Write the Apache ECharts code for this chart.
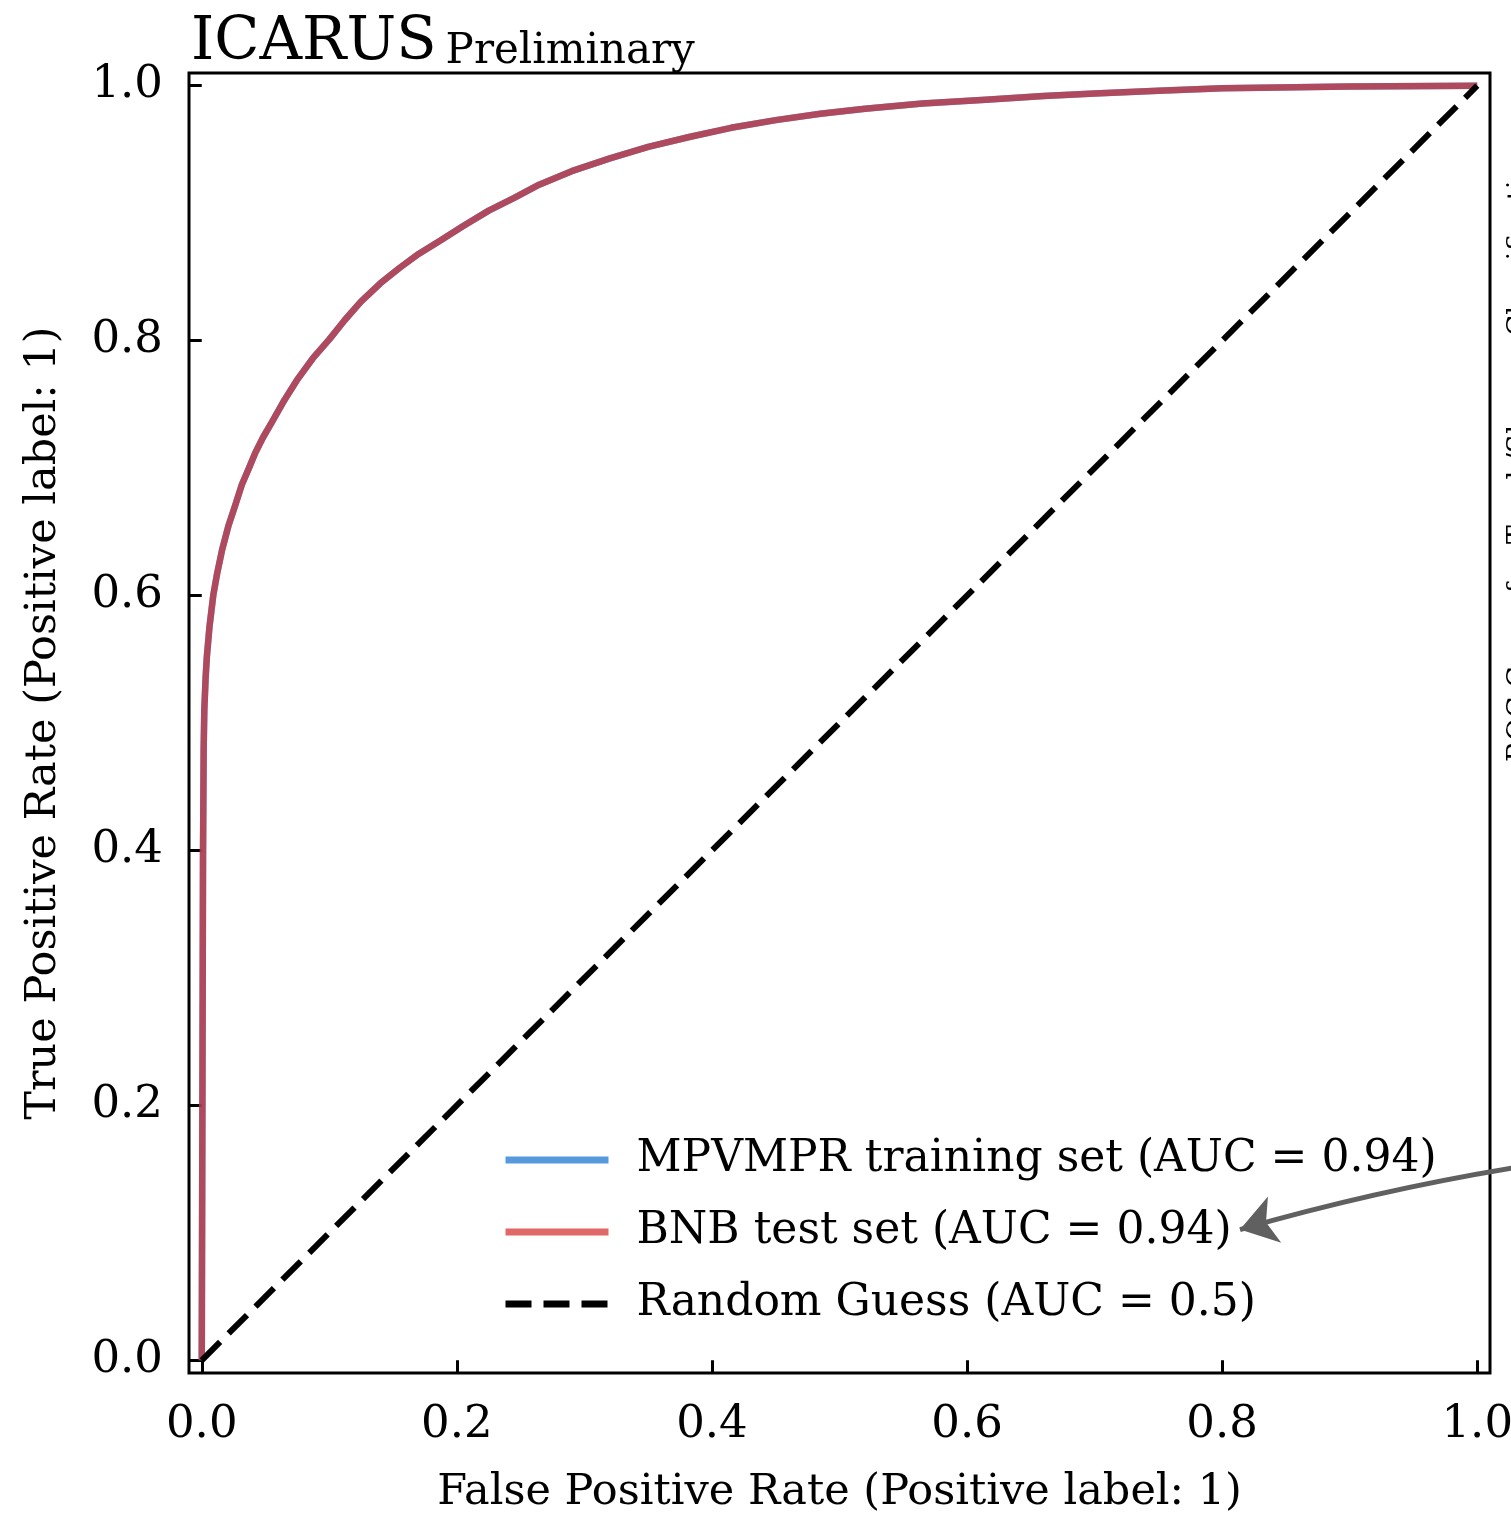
<!DOCTYPE html>
<html>
<head>
<meta charset="utf-8">
<script src="https://cdn.jsdelivr.net/npm/echarts@6/dist/echarts.min.js"></script>
<style>
html,body{margin:0;padding:0;background:#fff;}
#chart{width:1511px;height:1518px;}
</style>
</head>
<body>
<div id="chart"></div>
<script>
// ROC curve data (the two curves overlap)
const fprTrain = [0, 0.0005, 0.001, 0.0015, 0.002, 0.003, 0.004, 0.006, 0.009, 0.012, 0.016, 0.021, 0.026, 0.0314, 0.037, 0.042, 0.048, 0.055, 0.064, 0.0746, 0.087, 0.1, 0.112, 0.1248, 0.14, 0.155, 0.17, 0.1868, 0.205, 0.225, 0.245, 0.2645, 0.29, 0.32, 0.35, 0.383, 0.415, 0.45, 0.485, 0.52, 0.565, 0.6146, 0.66, 0.70, 0.75, 0.80, 0.90, 1.0];
const tprTrain = [0, 0.20, 0.40, 0.48, 0.51, 0.535, 0.552, 0.575, 0.600, 0.617, 0.636, 0.655, 0.670, 0.687, 0.700, 0.712, 0.724, 0.736, 0.752, 0.769, 0.786, 0.801, 0.816, 0.8306, 0.845, 0.857, 0.868, 0.8784, 0.890, 0.902, 0.912, 0.9224, 0.933, 0.943, 0.952, 0.960, 0.967, 0.973, 0.978, 0.982, 0.986, 0.989, 0.992, 0.994, 0.996, 0.998, 0.9995, 1.0];
const fprTest = [0, 0.0005, 0.001, 0.0015, 0.002, 0.003, 0.004, 0.006, 0.009, 0.012, 0.016, 0.021, 0.026, 0.0314, 0.037, 0.042, 0.048, 0.055, 0.064, 0.0746, 0.087, 0.1, 0.112, 0.1248, 0.14, 0.155, 0.17, 0.1868, 0.205, 0.225, 0.245, 0.2645, 0.29, 0.32, 0.35, 0.383, 0.415, 0.45, 0.485, 0.52, 0.565, 0.6146, 0.66, 0.70, 0.75, 0.80, 0.90, 1.0];
const tprTest = [0, 0.20, 0.40, 0.48, 0.51, 0.535, 0.552, 0.575, 0.600, 0.617, 0.636, 0.655, 0.670, 0.687, 0.700, 0.712, 0.724, 0.736, 0.752, 0.769, 0.786, 0.801, 0.816, 0.8306, 0.845, 0.857, 0.868, 0.8784, 0.890, 0.902, 0.912, 0.9224, 0.933, 0.943, 0.952, 0.960, 0.967, 0.973, 0.978, 0.982, 0.986, 0.989, 0.992, 0.994, 0.996, 0.998, 0.9995, 1.0];
const randomX = [0, 1];
const randomY = [0, 1];
const tickValues = [0, 0.2, 0.4, 0.6, 0.8, 1.0];
const seriesNames = ['MPVMPR training set (AUC = 0.94)', 'BNB test set (AUC = 0.94)', 'Random Guess (AUC = 0.5)'];
const arrowFrom = [1.035, 0.152];
const arrowTo = [0.814, 0.1025];
const sideText = 'ROC Curve for Track/Shower Classification';

const FONT = '"DejaVu Serif", "Liberation Serif", serif';
const zip = (a, b) => a.map((v, i) => [v, b[i]]);

const chart = echarts.init(document.getElementById('chart'), null, {renderer: 'canvas'});
const axisCommon = {
  type: 'value', min: -0.01, max: 1.01,
  splitLine: {show: false},
  axisLine: {show: false},
  axisTick: {show: true, customValues: tickValues, length: 12, lineStyle: {color: '#000', width: 3}},
  axisLabel: {customValues: tickValues, formatter: v => v.toFixed(1), color: '#000', fontFamily: FONT, fontSize: 45},
  nameLocation: 'middle',
  nameTextStyle: {color: '#000', fontFamily: FONT, fontSize: 43}
};
chart.setOption({
  animation: false,
  backgroundColor: '#fff',
  title: {
    left: 186, top: 6,
    text: '{a|ICARUS} {b|Preliminary}',
    textStyle: {rich: {
      a: {fontFamily: FONT, fontSize: 59, fontWeight: 'normal', color: '#000', verticalAlign: 'bottom', lineHeight: 62},
      b: {fontFamily: FONT, fontSize: 42, fontWeight: 'normal', color: '#000', verticalAlign: 'bottom', lineHeight: 62, padding: [0, 0, 0, 4]}
    }}
  },
  grid: {left: 189, top: 73, right: 21, bottom: 145, outerBoundsMode: 'none', containLabel: false,
         show: true, borderColor: '#000', borderWidth: 3, backgroundColor: 'transparent'},
  xAxis: Object.assign({}, axisCommon, {
    name: 'False Positive Rate (Positive label: 1)', nameGap: 98,
    axisLabel: Object.assign({}, axisCommon.axisLabel, {margin: 30})
  }),
  yAxis: Object.assign({}, axisCommon, {
    name: 'True Positive Rate (Positive label: 1)', nameGap: 124,
    axisLabel: Object.assign({}, axisCommon.axisLabel, {margin: 26})
  }),
  legend: {
    orient: 'vertical', left: 497, top: 1133,
    itemWidth: 103, itemHeight: 20, itemGap: 28,
    itemStyle: {opacity: 0},
    lineStyle: {width: 7},
    textStyle: {fontFamily: FONT, fontSize: 44, color: '#000', lineHeight: 44, padding: [0, 0, 0, 23]},
    data: seriesNames
  },
  series: [
    {name: seriesNames[0], type: 'line', data: zip(fprTrain, tprTrain), symbol: 'none', smooth: false,
     lineStyle: {color: 'rgba(30,120,210,0.75)', width: 6.5, join: 'round'}, itemStyle: {color: 'rgba(30,120,210,0.75)'}},
    {name: seriesNames[1], type: 'line', data: zip(fprTest, tprTest), symbol: 'none', smooth: false,
     lineStyle: {color: 'rgba(214,39,40,0.7)', width: 6.5, join: 'round'}, itemStyle: {color: 'rgba(214,39,40,0.7)'}},
    {name: seriesNames[2], type: 'line', data: zip(randomX, randomY), symbol: 'none',
     lineStyle: {color: '#000', width: 6, type: [26, 12], cap: 'butt'}, itemStyle: {color: '#000'}},
    {type: 'lines', coordinateSystem: 'cartesian2d', clip: false, silent: true,
     symbol: ['none', 'arrow'], symbolSize: 36,
     lineStyle: {color: '#606060', width: 5, curveness: -0.03, opacity: 1},
     data: [{coords: [arrowFrom, arrowTo]}]}
  ],
  graphic: [{
    type: 'text', x: 1506, y: 762, rotation: Math.PI / 2,
    style: {text: sideText, font: '28px ' + FONT, fill: '#000', align: 'left', verticalAlign: 'top'}
  }]
});
</script>
</body>
</html>
